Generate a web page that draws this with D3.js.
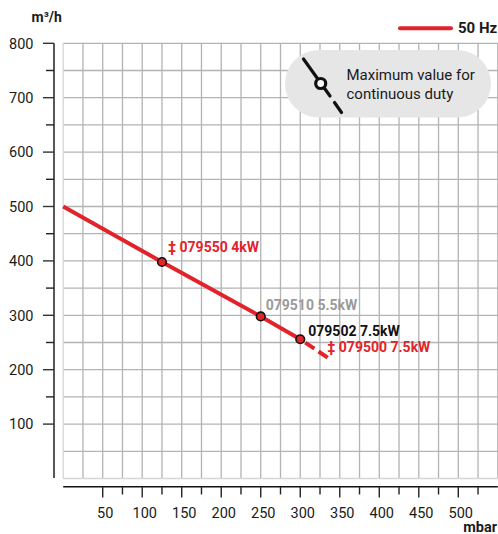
<!DOCTYPE html>
<html>
<head>
<meta charset="utf-8">
<script src="https://cdn.jsdelivr.net/npm/d3@7"></script>
<style>
  html, body { margin: 0; padding: 0; background: #fff; }
  svg { display: block; font-family: Roboto, "Liberation Sans", sans-serif; }
</style>
</head>
<body>
<svg id="chart" width="498" height="534"></svg>
<script>
// ---- data ----
const pressure = [0, 125, 250, 300];        // mbar (solid part)
const flow     = [500, 398, 298, 256];      // m³/h
const pressureExt = [300, 338];             // dashed extension beyond max continuous duty
const flowExt     = [256, 219];
const pointIdx = [1, 2, 3];                 // marked operating points
const pointLabels = ["‡ 079550 4kW", "079510 5.5kW", "079502 7.5kW", "‡ 079500 7.5kW"];
const xTickLabels = [50, 100, 150, 200, 250, 300, 350, 400, 450, 500];
const xMinorTicks = [75, 125, 175, 225, 275, 325, 375, 425, 475, 525];
const yTickLabels = [100, 200, 300, 400, 500, 600, 700, 800];
const yMinorTicks = [150, 250, 350, 450, 550, 650, 750];
const legendLabel = "50 Hz";
const noteLines = ["Maximum value for", "continuous duty"];

const RED = "#e2232a";
const svg = d3.select("#chart");

const x = d3.scaleLinear().domain([0, 550]).range([63.2, 497.8]);
const y = d3.scaleLinear().domain([0, 800]).range([478.5, 43.3]);

// ---- grid ----
const grid = svg.append("g");
grid.selectAll("line.v").data(d3.range(25, 551, 25)).join("line")
  .attr("x1", d => x(d)).attr("x2", d => x(d))
  .attr("y1", y(800)).attr("y2", y(0))
  .attr("stroke", "#b3b3b3").attr("stroke-width", 1.3);
grid.selectAll("line.h").data(d3.range(50, 801, 50)).join("line")
  .attr("x1", x(0)).attr("x2", x(550))
  .attr("y1", d => y(d)).attr("y2", d => y(d))
  .attr("stroke", "#b3b3b3").attr("stroke-width", 1.3);
// lighter borders at 0
grid.append("line").attr("x1", x(0)).attr("x2", x(0)).attr("y1", y(800)).attr("y2", y(0))
  .attr("stroke", "#d6d6d6").attr("stroke-width", 1.3);
grid.append("line").attr("x1", x(0)).attr("x2", x(550)).attr("y1", y(0)).attr("y2", y(0))
  .attr("stroke", "#d6d6d6").attr("stroke-width", 1.3);

// ---- y axis ----
const yAxisX = 54;
const yAx = svg.append("g");
yAx.append("line").attr("x1", yAxisX).attr("x2", yAxisX).attr("y1", y(800)).attr("y2", y(0) - 0.5)
  .attr("stroke", "#111").attr("stroke-width", 1.4);
yAx.selectAll("line.maj").data(yTickLabels).join("line")
  .attr("x1", 43).attr("x2", yAxisX).attr("y1", d => y(d)).attr("y2", d => y(d))
  .attr("stroke", "#333").attr("stroke-width", 1.4);
yAx.selectAll("line.min").data(yMinorTicks).join("line")
  .attr("x1", 46).attr("x2", yAxisX).attr("y1", d => y(d)).attr("y2", d => y(d))
  .attr("stroke", "#222").attr("stroke-width", 1.4);
yAx.selectAll("text").data(yTickLabels).join("text")
  .attr("x", 33.5).attr("y", d => y(d) + 5.2)
  .attr("text-anchor", "end").attr("font-size", 14.5).attr("fill", "#1a1a1a")
  .text(d => d);
svg.append("text").attr("x", 31.5).attr("y", 21.5)
  .attr("font-size", 14).attr("font-weight", 700).attr("fill", "#1a1a1a").text("m³/h");

// ---- x axis ----
const xAxisY = 486.7;
const xAx = svg.append("g");
xAx.append("line").attr("x1", x(0)).attr("x2", x(550)).attr("y1", xAxisY).attr("y2", xAxisY)
  .attr("stroke", "#111").attr("stroke-width", 1.4);
xAx.selectAll("line.maj").data(xTickLabels).join("line")
  .attr("x1", d => x(d)).attr("x2", d => x(d)).attr("y1", xAxisY).attr("y2", 497.5)
  .attr("stroke", "#222").attr("stroke-width", 1.4);
xAx.selectAll("line.min").data(xMinorTicks).join("line")
  .attr("x1", d => x(d)).attr("x2", d => x(d)).attr("y1", xAxisY).attr("y2", 494.5)
  .attr("stroke", "#222").attr("stroke-width", 1.4);
xAx.selectAll("text").data(xTickLabels).join("text")
  .attr("x", d => x(d) + 2.5).attr("y", 518.3)
  .attr("text-anchor", "middle").attr("font-size", 14.5).attr("fill", "#1a1a1a")
  .text(d => d);
svg.append("text").attr("x", 497).attr("y", 531.5).attr("text-anchor", "end")
  .attr("font-size", 14.5).attr("font-weight", 700).attr("fill", "#1a1a1a").text("mbar");

// ---- legend ----
svg.append("line").attr("x1", 400).attr("x2", 451).attr("y1", 28.3).attr("y2", 28.3)
  .attr("stroke", RED).attr("stroke-width", 4).attr("stroke-linecap", "round");
svg.append("text").attr("x", 458).attr("y", 33.3)
  .attr("font-size", 15).attr("font-weight", 700).attr("fill", "#1a1a1a").text(legendLabel);

// ---- note box ----
const note = svg.append("g");
note.append("rect").attr("x", 285).attr("y", 50).attr("width", 206).attr("height", 67.5)
  .attr("rx", 33.75).attr("fill", "#e6e6e7");
note.append("line").attr("x1", 303.5).attr("y1", 59).attr("x2", 330).attr("y2", 96)
  .attr("stroke", "#111").attr("stroke-width", 3.2).attr("stroke-linecap", "round");
note.append("line").attr("x1", 334.5).attr("y1", 102.5).attr("x2", 341.5).attr("y2", 112.5)
  .attr("stroke", "#111").attr("stroke-width", 3.2).attr("stroke-linecap", "round");
note.append("circle").attr("cx", 320.7).attr("cy", 83.5).attr("r", 5)
  .attr("fill", "#fff").attr("stroke", "#111").attr("stroke-width", 3.2);
note.selectAll("text").data(noteLines).join("text")
  .attr("x", 346.5).attr("y", (d, i) => 80 + i * 18.5)
  .attr("font-size", 15).attr("fill", "#1a1a1a").text(d => d);

// ---- curve ----
const line = d3.line().x(d => x(d[0])).y(d => y(d[1]));
svg.append("path").datum(pressure.map((p, i) => [p, flow[i]]))
  .attr("d", line).attr("fill", "none").attr("stroke", RED).attr("stroke-width", 4);
svg.append("path").datum(pressureExt.map((p, i) => [p, flowExt[i]]))
  .attr("d", line).attr("fill", "none").attr("stroke", RED).attr("stroke-width", 4)
  .attr("stroke-dasharray", "11,5").attr("stroke-dashoffset", -6);

svg.selectAll("circle.pt").data(pointIdx).join("circle")
  .attr("class", "pt")
  .attr("cx", i => x(pressure[i])).attr("cy", i => y(flow[i])).attr("r", 4.3)
  .attr("fill", RED).attr("stroke", "#111").attr("stroke-width", 1.6);

// ---- point labels ----
const labelSpec = [
  { idx: 1, dx: 6, dy: -9.5, color: RED },
  { idx: 2, dx: 5, dy: -6.7, color: "#9a9a9a" },
  { idx: 3, dx: 8, dy: -3.6, color: "#111" },
  { idx: 3, dx: 27, dy: 12.4, color: RED }
];
svg.selectAll("text.lbl").data(labelSpec).join("text")
  .attr("class", "lbl")
  .attr("x", d => x(pressure[d.idx]) + d.dx)
  .attr("y", d => y(flow[d.idx]) + d.dy)
  .attr("font-size", 14).attr("font-weight", 700).attr("fill", d => d.color)
  .text((d, i) => pointLabels[i]);
</script>
</body>
</html>
